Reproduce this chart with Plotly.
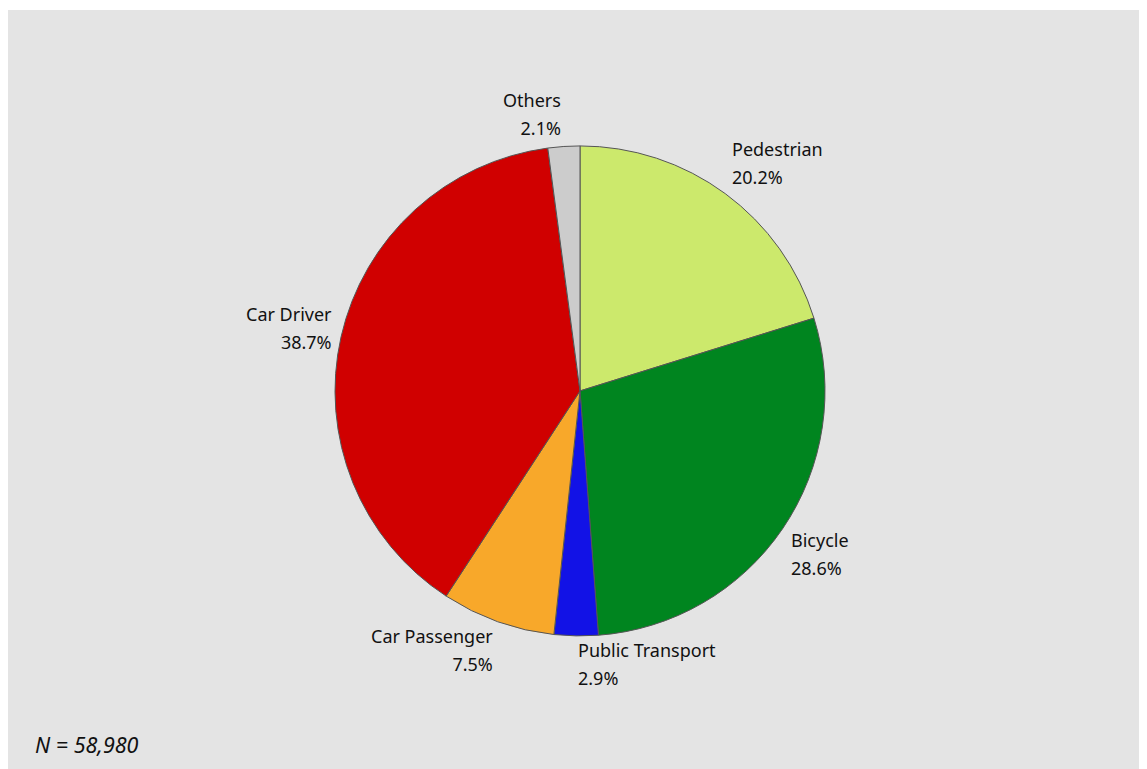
import numpy as np
import plotly.graph_objects as go

categories = ["Pedestrian", "Bicycle", "Public Transport", "Car Passenger", "Car Driver", "Others"]
shares = [20.2, 28.6, 2.9, 7.5, 38.7, 2.1]
colors = ["#cce96c", "#00851f", "#1212e6", "#f8a82a", "#d00000", "#cccccc"]
n_label = "N = 58,980"

W, H = 1147, 769
ml, mt = 0, 2
pw, ph = W - ml, H - mt
dom_x = [0.2851, 0.7123]
dom_y = [0.1839, 0.8228]

fig = go.Figure(go.Pie(
    labels=categories, values=shares, sort=False, direction="clockwise", rotation=0,
    marker=dict(colors=colors, line=dict(color="#555555", width=1)),
    textinfo="none", hoverinfo="label+percent", showlegend=False,
    domain=dict(x=dom_x, y=dom_y),
))

# label annotations placed from slice mid-angles
vals = np.array(shares, dtype=float)
frac = vals / vals.sum()
mids = (np.cumsum(frac) - frac / 2) * 2 * np.pi
cx = (dom_x[0] + dom_x[1]) / 2
cy = (dom_y[0] + dom_y[1]) / 2
r_px = min((dom_x[1] - dom_x[0]) * pw, (dom_y[1] - dom_y[0]) * ph) / 2
anns = []
for name, p, a in zip(categories, frac, mids):
    s, c = np.sin(a), np.cos(a)
    rr = r_px * 1.03
    x = cx + rr * s / pw
    y = cy + rr * c / ph
    xanchor = "left" if s > -0.03 else "right"
    if c > 0.5:
        yanchor, ysh = "bottom", -3
    elif c < -0.5:
        yanchor, ysh = "top", 7
    else:
        yanchor, ysh = "middle", 7
    anns.append(dict(
        x=x, y=y, xref="paper", yref="paper", showarrow=False,
        xanchor=xanchor, yanchor=yanchor, align=xanchor, yshift=ysh,
        text=f"<span style='font-size:18px'>{name}<br>{p*100:.1f}%</span>",
        font=dict(family="Noto Sans", size=21.5, color="#111111"),
    ))
anns.append(dict(
    x=0.0218, y=0.042, xref="paper", yref="paper", showarrow=False,
    xanchor="left", yanchor="middle", text=f"<i>{n_label}</i>",
    font=dict(family="Noto Sans", size=21.5, color="#111111"),
))

fig.update_layout(
    width=W, height=H, margin=dict(l=ml, r=0, t=mt, b=0),
    paper_bgcolor="white",
    shapes=[dict(type="rect", xref="paper", yref="paper", x0=0, y0=0, x1=1, y1=1,
                 fillcolor="#e4e4e4", line=dict(width=0), layer="below")],
    annotations=anns,
    font=dict(family="Noto Sans"),
)
fig.write_html("out.html")
